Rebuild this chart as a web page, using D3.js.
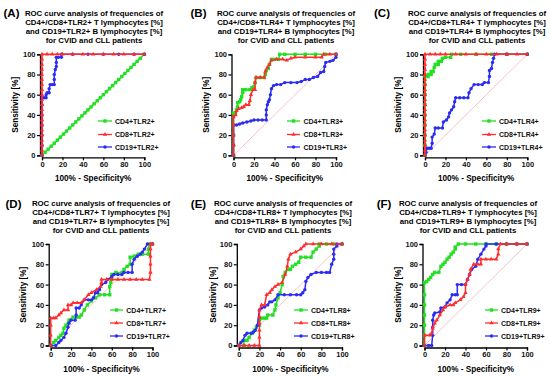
<!DOCTYPE html>
<html>
<head>
<meta charset="utf-8">
<script src="https://cdn.jsdelivr.net/npm/d3@7"></script>
<style>
  body { margin: 0; background: #fff; }
  svg { display: block; font-family: "Liberation Sans", Arial, sans-serif; }
</style>
</head>
<body>
<div id="chart"></div>
<script>
// ---- data: [1 - specificity %, sensitivity %] ----
var panelLetters = ["A", "B", "C", "D", "E", "F"];
var titleTlr = ["TLR2", "TLR4", "TLR4", "TLR7", "TLR8", "TLR9"];
var legendTlr = ["TLR2", "TLR3", "TLR4", "TLR7", "TLR8", "TLR9"];
var xTicks = [0, 20, 40, 60, 80, 100];
var yTicks = [0, 20, 40, 60, 80, 100];

var tlr2_cd4 = [[0,0],[3,3],[6,6],[9,9],[12,12],[15,15],[18,18],[21,21],[24,24],[27,27],[30,30],[33,33],[36,36],[39,39],[42,42],[45,45],[48,48],[51,51],[54,54],[57,57],[60,60],[63,63],[66,66],[69,69],[72,72],[75,75],[78,78],[81,81],[84,84],[87,87],[90,90],[93,93],[96,96],[100,100]];
var tlr2_cd8 = [[0,0],[0,5],[0,10],[0,15],[0,20],[0,25],[0,30],[0,35],[0,40],[0,45],[0,50],[0,55],[0,60],[0,65],[0,70],[0,75],[0,80],[0,85],[0,90],[0,95],[0,100],[5,100],[10,100],[15,100],[20,100],[30,100],[40,100],[50,100],[60,100],[70,100],[80,100],[90,100],[100,100]];
var tlr2_cd19 = [[0,0],[0,10],[0,20],[0,30],[0,40],[0,50],[0,57],[2,57],[4,57],[4,60],[5,62],[7,62],[7,66],[8,70],[10,70],[12,70],[12,75],[12,80],[13,85],[14,88],[14,92],[14,97],[16,97],[19,97],[19,100],[30,100],[45,100],[60,100],[75,100],[90,100],[100,100]];

var tlr4b_cd4 = [[0,0],[0,10],[0,20],[0,30],[0,42],[2,42],[3,45],[4,48],[4,52],[6,53],[7,55],[8,58],[9,62],[9,65],[12,65],[16,65],[18,67],[20,68],[21,72],[22,77],[26,77],[30,77],[31,80],[32,84],[34,86],[35,90],[37,95],[40,95],[44,95],[45,100],[50,100],[60,100],[70,100],[80,100],[90,100],[100,100]];
var tlr4b_cd8 = [[0,0],[0,10],[0,20],[0,30],[0,38],[2,40],[3,44],[5,46],[8,47],[10,48],[12,50],[15,50],[16,54],[17,60],[19,65],[21,65],[21,72],[22,77],[26,77],[30,77],[31,83],[33,87],[35,90],[37,94],[42,95],[48,95],[52,94],[56,96],[60,97],[70,97],[80,97],[86,97],[88,100],[94,100],[100,100]];
var tlr4b_cd19 = [[0,0],[0,10],[0,20],[0,30],[3,30],[6,31],[9,32],[13,33],[17,34],[20,35],[24,35],[28,35],[32,35],[32,40],[32,45],[33,50],[34,53],[35,55],[36,60],[37,66],[39,69],[42,70],[46,70],[50,72],[56,72],[62,72],[66,73],[70,75],[74,75],[78,77],[82,78],[85,82],[88,83],[89,88],[90,92],[94,93],[97,94],[100,97],[100,100]];

var tlr4c_cd4 = [[0,0],[0,10],[0,20],[0,30],[0,40],[0,50],[0,60],[0,70],[0,78],[3,78],[3,80],[6,80],[6,83],[8,83],[9,87],[10,90],[13,90],[13,93],[16,93],[17,96],[20,97],[25,97],[26,100],[35,100],[50,100],[65,100],[80,100],[100,100]];
var tlr4c_cd8 = [[0,0],[0,5],[0,10],[0,15],[0,20],[0,25],[0,30],[0,35],[0,40],[0,45],[0,50],[0,55],[0,60],[0,65],[0,70],[0,75],[0,80],[0,85],[0,90],[0,95],[0,100],[5,100],[10,100],[15,100],[20,100],[30,100],[40,100],[50,100],[60,100],[70,100],[80,100],[90,100],[100,100]];
var tlr4c_cd19 = [[0,0],[1,3],[2,7],[4,7],[6,7],[7,12],[7,18],[9,21],[10,27],[13,27],[17,27],[18,33],[21,35],[23,38],[24,42],[26,45],[28,48],[29,53],[30,57],[34,57],[38,57],[42,57],[43,62],[45,66],[48,70],[52,70],[56,70],[58,72],[62,72],[63,78],[63,84],[65,86],[66,92],[67,96],[68,100],[80,100],[100,100]];

var tlr7_cd4 = [[0,0],[3,3],[5,5],[8,8],[10,10],[12,12],[13,17],[15,20],[18,25],[22,28],[25,28],[28,28],[30,30],[33,35],[36,40],[40,44],[44,47],[48,50],[53,50],[58,50],[58,58],[59,62],[60,66],[60,70],[64,72],[70,72],[72,75],[75,78],[78,80],[78,87],[82,88],[86,90],[90,90],[96,90],[96,95],[97,100],[100,100]];
var tlr7_cd8 = [[0,0],[0,10],[0,20],[0,27],[3,27],[5,27],[8,30],[10,32],[13,35],[17,35],[17,40],[20,40],[22,42],[26,42],[30,42],[33,45],[37,50],[40,52],[45,55],[49,58],[50,62],[50,65],[55,65],[60,65],[66,65],[72,65],[78,65],[84,65],[90,65],[97,65],[98,72],[98,80],[98,88],[98,95],[98,100],[100,100]];
var tlr7_cd19 = [[0,0],[5,0],[8,3],[10,5],[13,8],[15,12],[17,18],[18,22],[20,25],[24,25],[25,30],[25,37],[28,37],[30,40],[33,45],[37,45],[40,45],[42,47],[44,52],[46,52],[48,55],[50,60],[54,62],[56,65],[60,68],[62,70],[66,70],[70,70],[72,72],[76,72],[80,72],[80,80],[82,85],[85,88],[88,90],[90,92],[92,95],[95,100],[100,100]];

var tlr8_cd4 = [[0,0],[5,0],[5,5],[8,5],[10,8],[13,12],[15,15],[17,18],[20,20],[20,25],[22,27],[25,27],[27,27],[28,30],[33,30],[35,35],[36,40],[38,47],[40,52],[42,60],[43,68],[45,72],[48,75],[50,75],[52,78],[55,80],[58,82],[60,87],[65,87],[70,87],[72,92],[75,95],[78,98],[78,100],[85,100],[92,100],[100,100]];
var tlr8_cd8 = [[0,0],[5,0],[10,0],[15,0],[20,0],[20,8],[20,15],[20,22],[20,28],[20,35],[22,40],[25,40],[27,50],[30,52],[32,55],[35,58],[38,60],[42,62],[45,70],[47,78],[48,85],[50,90],[55,92],[60,95],[63,98],[65,100],[72,100],[80,100],[90,100],[100,100]];
var tlr8_cd19 = [[0,0],[2,3],[4,5],[6,10],[8,12],[12,12],[14,13],[16,15],[18,20],[20,35],[22,37],[25,38],[28,40],[30,43],[32,43],[35,45],[38,50],[44,50],[50,50],[56,50],[60,50],[62,52],[64,55],[65,63],[67,67],[70,70],[75,72],[80,72],[85,72],[88,72],[90,80],[92,85],[92,90],[92,95],[95,98],[95,100],[100,100]];

var tlr9_cd4 = [[0,0],[0,10],[0,20],[0,30],[0,40],[0,50],[0,62],[2,63],[4,65],[6,67],[8,70],[10,72],[14,72],[16,78],[18,80],[20,82],[22,85],[24,87],[26,90],[28,92],[30,95],[30,97],[33,100],[40,100],[50,100],[60,100],[70,100],[80,100],[90,100],[100,100]];
var tlr9_cd8 = [[0,0],[0,10],[5,10],[7,12],[8,17],[10,22],[12,25],[15,30],[18,35],[20,38],[25,40],[28,40],[30,42],[35,45],[38,48],[40,52],[40,60],[42,65],[44,70],[45,75],[48,80],[52,80],[55,80],[55,85],[60,85],[65,85],[70,85],[72,90],[72,95],[74,100],[80,100],[90,100],[100,100]];
var tlr9_cd19 = [[0,0],[4,0],[7,0],[8,10],[8,18],[8,25],[9,30],[10,32],[15,33],[16,37],[20,38],[22,42],[25,45],[27,50],[30,50],[32,50],[32,60],[36,60],[40,60],[42,65],[44,70],[46,75],[50,78],[52,85],[55,90],[58,95],[60,98],[60,100],[70,100],[80,100],[90,100],[100,100]];

var cd4Series = [tlr2_cd4, tlr4b_cd4, tlr4c_cd4, tlr7_cd4, tlr8_cd4, tlr9_cd4];
var cd8Series = [tlr2_cd8, tlr4b_cd8, tlr4c_cd8, tlr7_cd8, tlr8_cd8, tlr9_cd8];
var cd19Series = [tlr2_cd19, tlr4b_cd19, tlr4c_cd19, tlr7_cd19, tlr8_cd19, tlr9_cd19];

// ---- layout (pixel positions) ----
var topLegend = [121, 134.5, 147];
var bottomLegend = [310, 323, 336];
var layout = [
  {x0: 42, x1: 144.3, y0: 54.3, y1: 155.3, tcx: 94, ty: 13.3, lab: [11.5, 12.7], ylx: 15, lx: [98, 112, 115], ly: topLegend},
  {x0: 233.5, x1: 336, y0: 54.3, y1: 155.3, tcx: 286, ty: 13.3, lab: [198.5, 12.7], ylx: 205.7, lx: [287, 300, 303.5], ly: topLegend},
  {x0: 425, x1: 527.3, y0: 54.3, y1: 155.3, tcx: 477, ty: 13.3, lab: [382, 12.7], ylx: 397.7, lx: [482, 496, 499], ly: topLegend},
  {x0: 50.7, x1: 152.5, y0: 244, y1: 345.5, tcx: 101, ty: 203, lab: [13.5, 204], ylx: 22.7, lx: [110, 123, 126.3], ly: bottomLegend},
  {x0: 238.8, x1: 342, y0: 244, y1: 345.5, tcx: 283, ty: 203, lab: [198.5, 204], ylx: 213, lx: [294, 308, 311], ly: bottomLegend},
  {x0: 424.5, x1: 527, y0: 244, y1: 345.5, tcx: 468, ty: 203, lab: [384, 203.5], ylx: 397.7, lx: [485, 498, 501], ly: bottomLegend}
];

var colors = {cd4: "#22e022", cd8: "#ff2d2d", cd19: "#2b2bf5"};

var svg = d3.select("#chart").append("svg")
  .attr("width", 550).attr("height", 376);

function drawMarker(g, kind, x, y, color) {
  if (kind === "square") {
    g.append("rect").attr("x", x - 1.7).attr("y", y - 1.7)
      .attr("width", 3.4).attr("height", 3.4).attr("fill", color);
  } else if (kind === "triangle") {
    g.append("path").attr("d", d3.symbol().type(d3.symbolTriangle).size(8)())
      .attr("transform", "translate(" + x + "," + y + ")").attr("fill", color);
  } else {
    g.append("circle").attr("cx", x).attr("cy", y).attr("r", 1.7).attr("fill", color);
  }
}

panelLetters.forEach(function (letter, i) {
  var L = layout[i];
  var g = svg.append("g");
  var x = d3.scaleLinear().domain([0, 100]).range([L.x0, L.x1]);
  var y = d3.scaleLinear().domain([0, 100]).range([L.y1, L.y0]);

  // panel letter
  g.append("text").attr("x", L.lab[0]).attr("y", L.lab[1] + 4)
    .attr("text-anchor", "middle").attr("font-size", 11.5).attr("font-weight", "bold")
    .text("(" + letter + ")");

  // title
  var t = titleTlr[i];
  var lines = ["ROC curve analysis of frequencies of",
    "CD4+/CD8+" + t + "+ T lymphocytes [%]",
    "and CD19+" + t + "+ B lymphocytes [%]",
    "for CVID and CLL patients"];
  lines.forEach(function (s, k) {
    g.append("text").attr("x", L.tcx).attr("y", L.ty + 2.8 + k * 9.1)
      .attr("text-anchor", "middle").attr("font-size", 7.8).attr("font-weight", "bold")
      .text(s);
  });

  // axes, offset a little from the plot area as in Prism
  var xAxis = g.append("g").attr("transform", "translate(0," + (L.y1 + 2) + ")")
    .call(d3.axisBottom(x).tickValues(xTicks).tickSize(3).tickPadding(1.5));
  var yAxis = g.append("g").attr("transform", "translate(" + (L.x0 - 2) + ",0)")
    .call(d3.axisLeft(y).tickValues(yTicks).tickSize(3).tickPadding(1.5));
  [xAxis, yAxis].forEach(function (a) {
    a.select(".domain").attr("stroke", "#000").attr("stroke-width", 1.3);
    a.selectAll(".tick line").attr("stroke", "#000").attr("stroke-width", 1.2);
    a.selectAll(".tick text").attr("font-size", 7.5).attr("font-weight", "bold")
      .attr("fill", "#111").attr("font-family", "Liberation Sans, Arial, sans-serif");
  });

  // axis titles
  g.append("text").attr("x", (L.x0 + L.x1) / 2).attr("y", L.y1 + 26)
    .attr("text-anchor", "middle").attr("font-size", 8.2).attr("font-weight", "bold")
    .text("100% - Specificity%");
  g.append("text").attr("transform", "translate(" + (L.ylx + 3) + "," + ((L.y0 + L.y1) / 2) + ") rotate(-90)")
    .attr("text-anchor", "middle").attr("font-size", 8.2).attr("font-weight", "bold")
    .text("Sensitivity [%]");

  // reference diagonal
  g.append("line").attr("x1", x(0)).attr("y1", y(0)).attr("x2", x(100)).attr("y2", y(100))
    .attr("stroke", "#f2b8b8").attr("stroke-width", 0.8);

  var line = d3.line().x(function (d) { return x(d[0]); }).y(function (d) { return y(d[1]); });
  var series = [
    {data: cd4Series[i], color: colors.cd4, kind: "square", name: "CD4+" + legendTlr[i] + "+"},
    {data: cd8Series[i], color: colors.cd8, kind: "triangle", name: "CD8+" + legendTlr[i] + "+"},
    {data: cd19Series[i], color: colors.cd19, kind: "circle", name: "CD19+" + legendTlr[i] + "+"}
  ];
  var drawOrder = [0, 2, 1];
  drawOrder.forEach(function (k) {
    var s = series[k];
    var sg = g.append("g");
    sg.append("path").datum(s.data).attr("d", line)
      .attr("fill", "none").attr("stroke", s.color).attr("stroke-width", 1.5);
    s.data.forEach(function (d) { drawMarker(sg, s.kind, x(d[0]), y(d[1]), s.color); });
  });

  // legend
  series.forEach(function (s, k) {
    var ly = L.ly[k];
    g.append("line").attr("x1", L.lx[0]).attr("x2", L.lx[1]).attr("y1", ly).attr("y2", ly)
      .attr("stroke", s.color).attr("stroke-width", 1.3);
    drawMarker(g, s.kind, (L.lx[0] + L.lx[1]) / 2, ly, s.color);
    g.append("text").attr("x", L.lx[2]).attr("y", ly + 2.5)
      .attr("font-size", 7).attr("font-weight", "bold").attr("fill", "#111")
      .text(s.name);
  });
});
</script>
</body>
</html>
